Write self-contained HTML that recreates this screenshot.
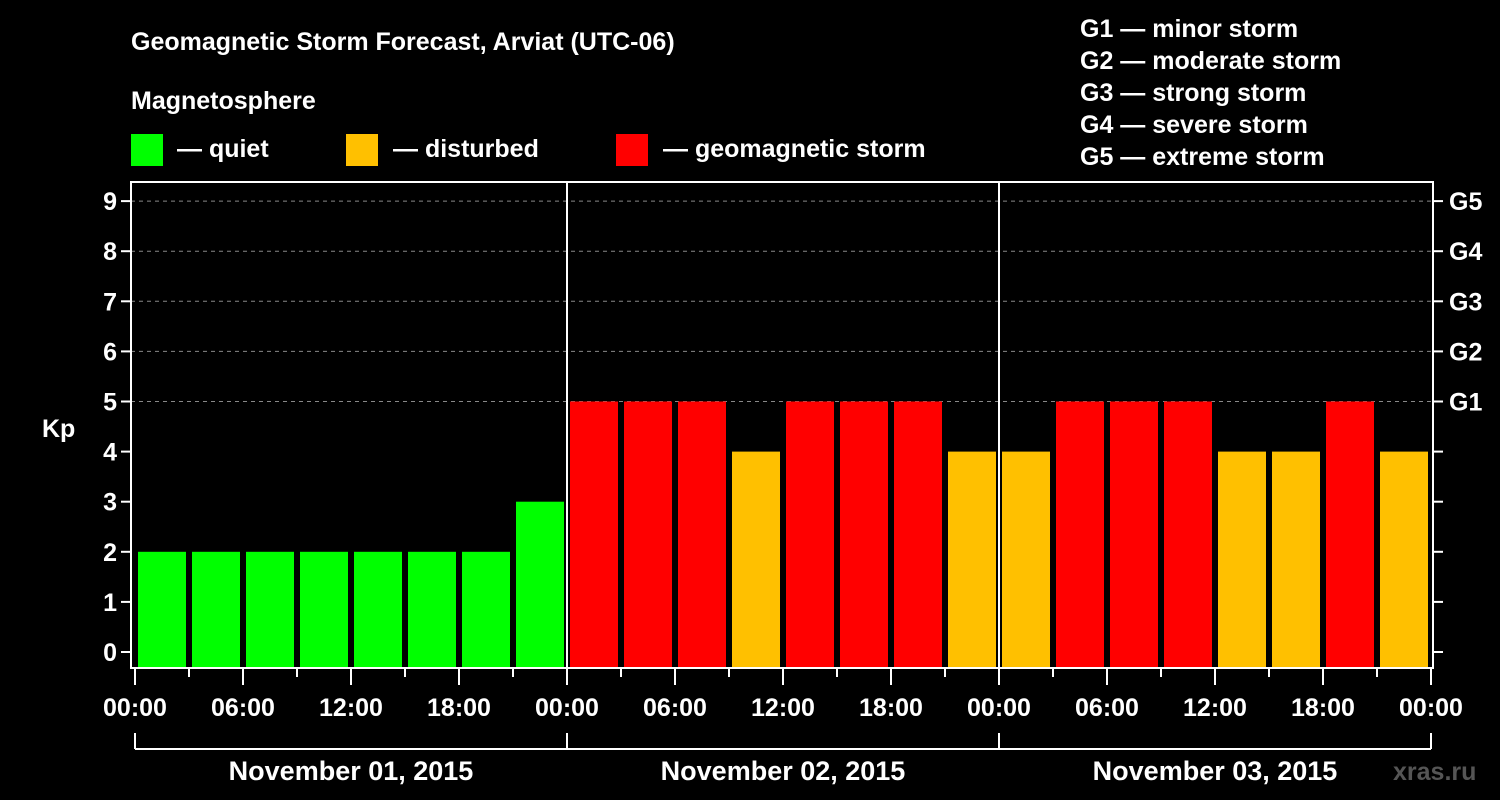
<!DOCTYPE html>
<html><head><meta charset="utf-8"><style>
html,body{margin:0;background:#000;}
svg{display:block;font-family:"Liberation Sans",Arial,sans-serif;font-weight:bold;fill:#fff;}
</style></head><body>
<svg id="c" width="1500" height="800" xmlns="http://www.w3.org/2000/svg">
<rect width="1500" height="800" fill="#000"/>
<text x="131" y="50" font-size="25">Geomagnetic Storm Forecast, Arviat (UTC-06)</text>
<text x="131" y="109" font-size="25">Magnetosphere</text>
<g><rect x="131" y="134" width="32" height="32" fill="#00ff00"/><text x="177" y="157" font-size="25">— quiet</text></g>
<g><rect x="346" y="134" width="32" height="32" fill="#ffc000"/><text x="393" y="157" font-size="25">— disturbed</text></g>
<g><rect x="616" y="134" width="32" height="32" fill="#ff0000"/><text x="663" y="157" font-size="25">— geomagnetic storm</text></g>
<g font-size="25">
<text x="1080" y="37">G1 — minor storm</text>
<text x="1080" y="69">G2 — moderate storm</text>
<text x="1080" y="101">G3 — strong storm</text>
<text x="1080" y="133">G4 — severe storm</text>
<text x="1080" y="165">G5 — extreme storm</text>
</g>
<text x="42" y="437" font-size="25">Kp</text>
<text x="1393" y="780" font-size="25" fill="#555" style="fill:#555">xras.ru</text>
<g id="grid"></g><g id="bars"></g><g id="axes"></g>
</svg>
<script>
const days=["November 01, 2015","November 02, 2015","November 03, 2015"];
const kpValues=[2,2,2,2,2,2,2,3, 5,5,5,4,5,5,5,4, 4,5,5,5,4,4,5,4];
const yTicks=[0,1,2,3,4,5,6,7,8,9];
const gLabels=["G1","G2","G3","G4","G5"];
const hourLabels=["00:00","06:00","12:00","18:00"];
const NS="http://www.w3.org/2000/svg";
const X0=135,DAYW=432,Y0=652,KPH=50.1,L=131,R=1433,T=182,B=668;
const x=h=>X0+h*DAYW/24, y=k=>Y0-k*KPH;
function mk(tag,at,parent,txt){const e=document.createElementNS(NS,tag);for(const k in at)e.setAttribute(k,at[k]);if(txt!=null)e.textContent=txt;parent.appendChild(e);return e;}
const grid=document.getElementById('grid'),bars=document.getElementById('bars'),axes=document.getElementById('axes');
yTicks.forEach(k=>{if(k>=5){const g=mk('line',{x1:L,x2:R,y1:y(k),y2:y(k),stroke:'#888','stroke-dasharray':'4,4'},grid);

}
mk('line',{x1:L-10,x2:L,y1:y(k),y2:y(k),stroke:'#fff','stroke-width':2},axes);
mk('line',{x1:R,x2:R+10,y1:y(k),y2:y(k),stroke:'#fff','stroke-width':2},axes);
const t=mk('text',{x:L-14,y:y(k)+9,'font-size':25,'text-anchor':'end'},axes,k);

});
gLabels.forEach((g,i)=>{const t=mk('text',{x:R+16,y:y(5+i)+9,'font-size':25},axes,g);

});
kpValues.forEach((k,i)=>{const c=k>=5?'#ff0000':(k>=4?'#ffc000':'#00ff00');
const r=mk('rect',{x:x(i*3)+3,y:y(k),width:DAYW/8-6,height:B-y(k),fill:c},bars);

});
mk('rect',{x:L,y:T,width:R-L,height:B-T,fill:'none',stroke:'#fff','stroke-width':2},axes);
for(let d=1;d<days.length;d++)mk('line',{x1:x(24*d),x2:x(24*d),y1:T,y2:B,stroke:'#fff','stroke-width':2},axes);
for(let h=0;h<=72;h+=3){const maj=h%6==0;mk('line',{x1:x(h),x2:x(h),y1:B,y2:B+(maj?17:9),stroke:'#fff','stroke-width':2},axes);}
for(let h=0;h<=72;h+=6){const t=mk('text',{x:x(h),y:716,'font-size':25,'text-anchor':'middle'},axes,hourLabels[(h/6)%4]);

}
mk('line',{x1:x(0),x2:x(72),y1:749,y2:749,stroke:'#fff','stroke-width':2},axes);
for(let d=0;d<=days.length;d++)mk('line',{x1:x(24*d),x2:x(24*d),y1:733,y2:749,stroke:'#fff','stroke-width':2},axes);
days.forEach((s,d)=>{const t=mk('text',{x:x(24*d+12),y:780,'font-size':27,'text-anchor':'middle'},axes,s);

});
</script>
</body></html>
